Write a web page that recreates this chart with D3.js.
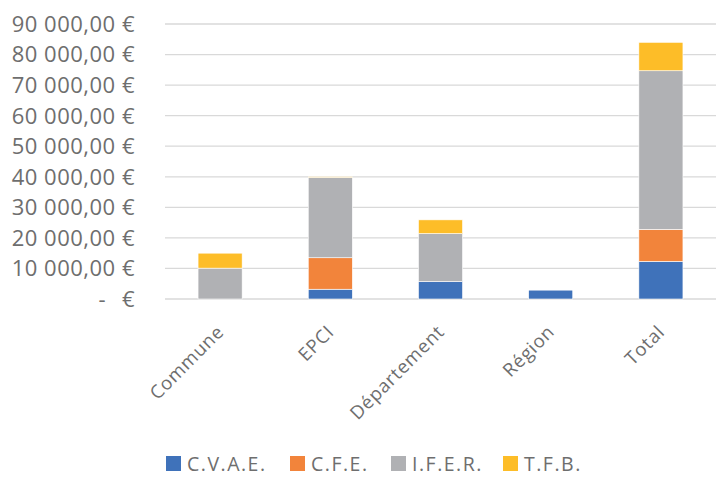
<!DOCTYPE html>
<html>
<head>
<meta charset="utf-8">
<script src="https://cdn.jsdelivr.net/npm/d3@7"></script>
<style>
  body { margin: 0; background: #fff; }
  text { font-family: "Open Sans", sans-serif; fill: #6e6e6e; }
</style>
</head>
<body>
<svg id="chart" width="723" height="484"></svg>
<script>
// --- Data ---
const categories = ["Commune", "EPCI", "Département", "Région", "Total"];
const seriesNames = ["C.V.A.E.", "C.F.E.", "I.F.E.R.", "T.F.B."];
const cvae = [0, 3200, 5700, 2900, 12300];
const cfe = [0, 10300, 0, 0, 10500];
const ifer = [10100, 26300, 15700, 0, 51900];
const tfb = [4900, 200, 4500, 0, 9300];
const yTicks = [0, 10000, 20000, 30000, 40000, 50000, 60000, 70000, 80000, 90000];
const colors = ["#3f72ba", "#f2843b", "#b0b1b4", "#fdbd28"];

const svg = d3.select("#chart");

const margin = { top: 24, left: 165, right: 7, bottom: 185 };
const width = 723;
const height = 484;

const x = d3.scaleBand()
    .domain(categories)
    .range([margin.left, width - margin.right])
    .paddingInner(0.6)
    .paddingOuter(0.3);

const y = d3.scaleLinear()
    .domain([0, 90000])
    .range([height - margin.bottom, margin.top]);

// number format like "10 000,00 €"
const fr = d3.formatLocale({ decimal: ",", thousands: "\u00a0", grouping: [3], currency: ["", " €"] });
const fmt = fr.format(",.2f");

// Gridlines
svg.append("g")
    .selectAll("line")
    .data(yTicks)
    .join("line")
    .attr("x1", margin.left)
    .attr("x2", width - margin.right)
    .attr("y1", (d) => y(d))
    .attr("y2", (d) => y(d))
    .attr("stroke", "#d9d9d9")
    .attr("stroke-width", 1.3);

// Y labels
const yLab = svg.append("g").attr("font-size", 22).attr("letter-spacing", 0.5);
yTicks.forEach((d) => {
    if (d === 0) {
        yLab.append("text")
            .attr("x", 106).attr("y", y(d)).attr("dy", "0.36em")
            .attr("text-anchor", "end").text("-");
        yLab.append("text")
            .attr("x", 135).attr("y", y(d)).attr("dy", "0.36em")
            .attr("text-anchor", "end").text("€");
    } else {
        yLab.append("text")
            .attr("x", 135).attr("y", y(d)).attr("dy", "0.36em")
            .attr("text-anchor", "end")
            .text(fmt(d) + " €");
    }
});

// Stacked bars
const table = categories.map((c, i) => ({
    cat: c, "C.V.A.E.": cvae[i], "C.F.E.": cfe[i], "I.F.E.R.": ifer[i], "T.F.B.": tfb[i],
}));
const stacked = d3.stack().keys(seriesNames)(table);

svg.append("g")
    .selectAll("g")
    .data(stacked)
    .join("g")
    .attr("fill", (d, i) => colors[i])
    .selectAll("rect")
    .data((d) => d.filter((p) => p[1] - p[0] > 0))
    .join("rect")
    .attr("x", (d) => x(d.data.cat))
    .attr("width", x.bandwidth())
    .attr("y", (d) => y(d[1]))
    .attr("height", (d) => y(d[0]) - y(d[1]))
    .attr("stroke", "#fff")
    .attr("stroke-width", 0.6);

// X labels, rotated
svg.append("g")
    .selectAll("text")
    .data(categories)
    .join("text")
    .attr("transform", (d) => `translate(${x(d) + x.bandwidth() / 2 + 5},${y(0) + 34}) rotate(-45)`)
    .attr("text-anchor", "end")
    .attr("font-size", 18.5)
    .attr("letter-spacing", 0.8)
    .text((d) => d);

// Legend
const legendX = [166, 290, 391, 503];
const legend = svg.append("g")
    .selectAll("g")
    .data(seriesNames)
    .join("g")
    .attr("transform", (d, i) => `translate(${legendX[i]},456)`);
legend.append("rect")
    .attr("width", 15).attr("height", 15)
    .attr("fill", (d, i) => colors[i]);
legend.append("text")
    .attr("x", 21).attr("y", 7.5).attr("dy", "0.36em")
    .attr("font-size", 19.5)
    .attr("letter-spacing", 1.5)
    .text((d) => d);
</script>
</body>
</html>
